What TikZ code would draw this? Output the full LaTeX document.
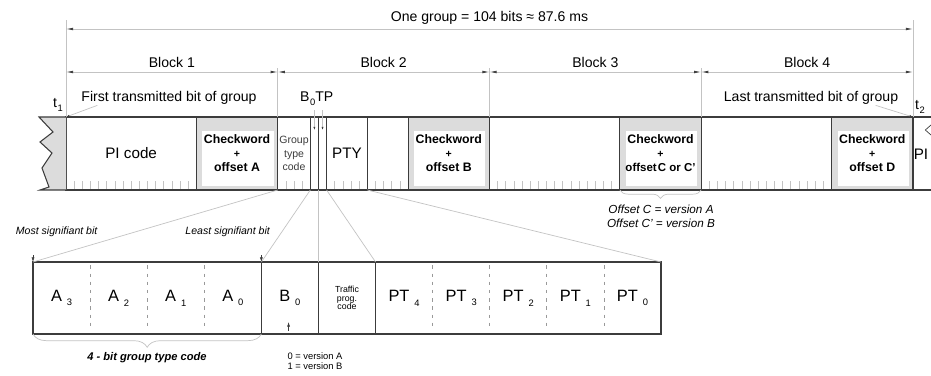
\documentclass[tikz,border=0pt]{standalone}
\usepackage{fontspec}
\setmainfont{Liberation Sans}
\definecolor{darkline}{RGB}{60,60,60}
\definecolor{lightline}{RGB}{195,195,195}
\definecolor{shade}{RGB}{220,220,220}
\usetikzlibrary{arrows.meta, positioning, calc, decorations.pathreplacing}
\newcommand{\ix}[2][0.3em]{\kern#1\raisebox{-0.55ex}{\fontsize{8}{8}\selectfont #2}}

\begin{document}
\begin{tikzpicture}[
  cell/.style={draw=darkline, line width=0.9pt, minimum width=#1*0.24433cm,
               minimum height=2.19cm, inner sep=0pt, outer sep=0pt,
               font=\fontsize{13}{15}\selectfont},
  cw/.style={cell=10, fill=shade, align=center, font=\fontsize{10.5}{12}\selectfont\bfseries,
             path picture={\fill[white] ($(path picture bounding box.north west)+(0.18,-0.42)$)
               rectangle ($(path picture bounding box.south east)+(-0.12,0.12)$);}},
  bit/.style={minimum width=1.7127cm, minimum height=2.16cm, inner sep=0pt, outer sep=0pt,
              font=\fontsize{14}{16}\selectfont},
  lbl/.style={font=\fontsize{12}{14}\selectfont},
  note/.style={font=\itshape\fontsize{9}{11}\selectfont},
  frame/.style={darkline, line width=0.9pt},
  sep/.style={gray!80, line width=0.6pt, dash pattern=on 3pt off 4pt},
  dim/.style={lightline, line width=0.6pt, >={Latex[length=6pt,width=2.2pt,color=darkline]}, <->},
  ext/.style={lightline, line width=0.6pt},
  lead/.style={lightline, line width=0.6pt, -{Latex[length=3pt,width=1.8pt,color=darkline]}},
  tip/.style={darkline, line width=0.5pt, -{Latex[length=4pt,width=2.6pt]}},
  proj/.style={lightline, line width=0.6pt},
  tick/.style={lightline, line width=0.6pt},
  brace/.style={lightline, line width=0.6pt, decorate}
]
\useasboundingbox (0,0) rectangle (27.93,11.25);

% One group, four blocks
\node[cell=16, anchor=north west] (pi) at (1.98,7.74) {PI code};
\node[cw, right=0pt of pi] (cwa) {Checkword\\{\small+}\\offset A};
\node[cell=4, right=0pt of cwa, align=center, text=darkline,
      font=\fontsize{9}{11.5}\selectfont] (gtc) {Group\\type\\code};
\node[cell=1, right=0pt of gtc] (bz) {};
\node[cell=1, right=0pt of bz] (tp) {};
\node[cell=5, right=0pt of tp] (pty) {PTY};
\node[cell=5, right=0pt of pty] (rest) {};
\node[cw, right=0pt of rest] (cwb) {Checkword\\{\small+}\\offset B};
\node[cell=16, right=0pt of cwb] (inf3) {};
\node[cw, right=0pt of inf3] (cwc) {Checkword\\{\small+}\\{\fontsize{9.8}{12}\selectfont offset\kern1pt C or C'}};
\node[cell=16, right=0pt of cwc] (inf4) {};
\node[cw, right=0pt of inf4] (cwd) {Checkword\\{\small+}\\offset D};

% cut ends of the stream
\filldraw[fill=shade, draw=darkline, line width=0.9pt] (pi.north west) -- (1.17,7.74) -- (1.59,7.29)
  -- (1.2,6.99) -- (1.56,6.66) -- (1.26,6.21) -- (1.47,5.64) -- (1.2,5.55) -- (pi.south west);
\draw[frame] (cwd.north east) -- ++(0.6,0);
\draw[frame] (cwd.south east) -- ++(0.6,0);
\node[font=\fontsize{13}{15}\selectfont] (nextpi) at (27.63,6.63) {PI};
\draw[darkline, line width=0.6pt] (27.93,7.5) -- (27.76,7.35) -- (27.93,7.2);

% bit ticks
\foreach \b in {0,2,3}
  \foreach \k in {1,...,15}
    \draw[tick] ($(pi.south west)+({(26*\b+\k)*0.24433},0.03)$) -- ++(0,0.24);
\foreach \k in {1,2,3,7,8,9,10,12,13,14,15}
  \draw[tick] ($(cwa.south east)+(\k*0.24433,0.03)$) -- ++(0,0.24);

% dimension lines
\coordinate (grp) at (0,10.38);
\coordinate (blk) at (0,9.09);
\draw[ext] (pi.north west) -- ++(0,2.91);
\draw[ext] (cwd.north east) -- ++(0,2.91);
\foreach \c in {cwa,cwb,cwc}
  \draw[ext] (\c.north east) -- ++(0,1.47);
\draw[dim] (pi.north west |- grp) -- (cwd.north east |- grp)
  node[midway, yshift=0.33cm, text=black, lbl] {One group = 104 bits ≈ 87.6 ms};
\draw[dim] (pi.north west |- blk) -- (cwa.north east |- blk)
  node[midway, yshift=0.3cm, text=black, lbl] {Block 1};
\draw[dim] (cwa.north east |- blk) -- (cwb.north east |- blk)
  node[midway, yshift=0.3cm, text=black, lbl] {Block 2};
\draw[dim] (cwb.north east |- blk) -- (cwc.north east |- blk)
  node[midway, yshift=0.3cm, text=black, lbl] {Block 3};
\draw[dim] (cwc.north east |- blk) -- (cwd.north east |- blk)
  node[midway, yshift=0.3cm, text=black, lbl] {Block 4};

% first and last bit
\node[lbl] (first) at (5.07,8.31) {First transmitted bit of group};
\node[lbl] (tone) at (1.74,8.1) {t\ix[0.5pt]{1}};
\draw[lead] ($(first.south west)+(0.6,0.1)$) -- (pi.north west);
\node[lbl] (last) at (24.33,8.31) {Last transmitted bit of group};
\node[lbl] (ttwo) at (27.6,8.04) {t\ix[0.5pt]{2}};
\draw[lead] ($(last.south east)+(-0.8,0.1)$) -- (cwd.north east);
\node[lbl] (btp) at (9.5,8.28) {B\ix[0.5pt]{0}TP};
\draw[lead] (btp.south -| bz.north) -- ([yshift=-0.4cm]bz.north);
\draw[lead] (btp.south -| tp.north) -- ([yshift=-0.4cm]tp.north);

% offset C note
\draw[brace, decoration={brace, mirror, amplitude=0.25cm}] (cwc.south west) -- (cwc.south east);
\node[align=center, font=\itshape\fontsize{10}{12}\selectfont] (offc) at (19.83,4.77)
  {Offset C = version A\\Offset C' = version B};

% expanded block 2 information word
\node[bit, anchor=north west] (a3) at (0.99,3.39) {A\ix{3}};
\node[bit, right=0pt of a3] (a2) {A\ix{2}};
\node[bit, right=0pt of a2] (a1) {A\ix{1}};
\node[bit, right=0pt of a1] (a0) {A\ix{0}};
\node[bit, right=0pt of a0] (bzero) {B\ix{0}};
\node[bit, right=0pt of bzero, align=center, font=\fontsize{7.5}{7}\selectfont] (tpc) {Traffic\\prog.\\code};
\node[bit, right=0pt of tpc] (pt4) {PT\ix{4}};
\node[bit, right=0pt of pt4] (pt3) {PT\ix{3}};
\node[bit, right=0pt of pt3] (pt2) {PT\ix{2}};
\node[bit, right=0pt of pt2] (pt1) {PT\ix{1}};
\node[bit, right=0pt of pt1] (pt0) {PT\ix{0}};
\draw[frame] (a3.north west) rectangle (pt0.south east);
\foreach \c in {a0,bzero,tpc}
  \draw[frame] (\c.north east) -- (\c.south east);
\foreach \c in {a3,a2,a1,pt4,pt3,pt2,pt1}
  \draw[sep] ([yshift=-0.1cm]\c.north east) -- ([yshift=0.1cm]\c.south east);

% projection lines
\draw[proj] (gtc.south west) -- (a3.north west);
\draw[proj] (bz.south west) -- (bzero.north west);
\draw[proj] (bz.south east) -- (bzero.north east);
\draw[proj] (tp.south east) -- (tpc.north east);
\draw[proj] (pty.south east) -- (pt0.north east);

% notes on the expanded word
\node[note] (msb) at (1.7,4.29) {Most signifiant bit};
\node[note] (lsb) at (6.83,4.29) {Least signifiant bit};
\draw[tip] ([yshift=0.2cm]a3.north west) -- (a3.north west);
\draw[tip] ([yshift=0.2cm]a0.north east) -- (a0.north east);
\draw[tip] ([xshift=-0.04cm,yshift=0.1cm]bzero.south) -- ([xshift=-0.04cm,yshift=0.36cm]bzero.south);
\draw[brace, decoration={brace, mirror, amplitude=0.4cm}] (a3.south west) -- (a0.south east);
\node[font=\bfseries\itshape\fontsize{9.5}{11}\selectfont] (gtcnote) at (4.41,0.51) {4 - bit group type code};
\node[align=left, font=\fontsize{8}{9}\selectfont] (ver) at (9.45,0.42) {0 = version A\\1 = version B};
\end{tikzpicture}
\end{document}
